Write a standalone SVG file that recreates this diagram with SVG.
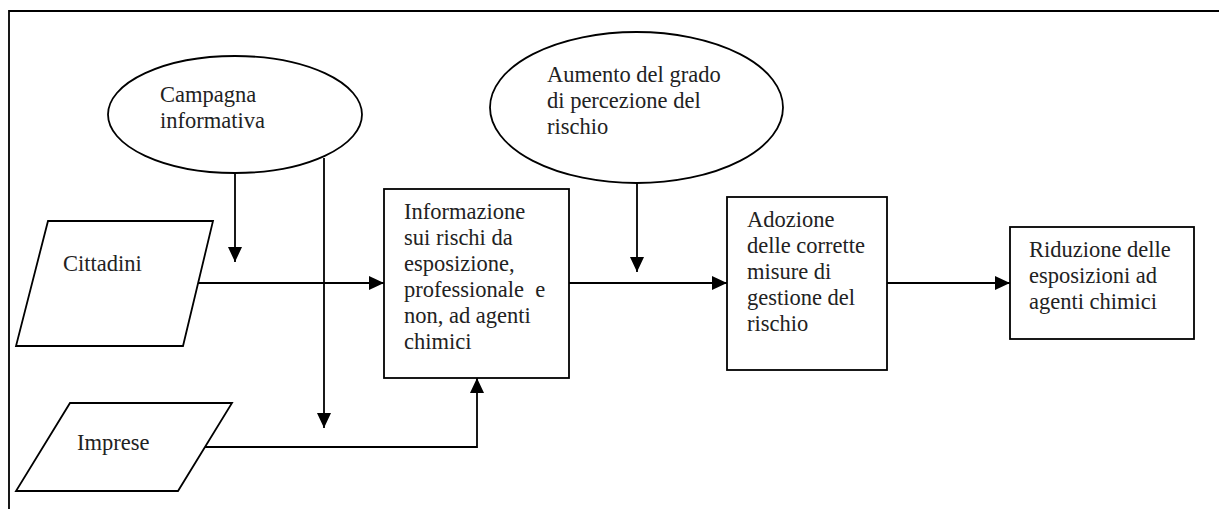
<svg xmlns="http://www.w3.org/2000/svg" width="1219" height="509" viewBox="0 0 1219 509">
<style>
.s{fill:#fff;stroke:#000;stroke-width:1.8}
.c{fill:none;stroke:#000;stroke-width:1.8}
.t{font-family:"Liberation Serif","Times New Roman",Tinos,"DejaVu Serif",serif;font-size:22.5px;fill:#222}
</style>
<defs>
<marker id="ah" viewBox="0 0 15 14" refX="15" refY="7" markerWidth="15" markerHeight="14" markerUnits="userSpaceOnUse" orient="auto">
<path d="M0,0 L15,7 L0,14 Z" fill="#000"/>
</marker>
</defs>
<rect width="1219" height="509" fill="#fff"/>
<g id="frame"><path class="c" d="M9,509 V11 H1219"/></g>
<g id="connectors">
<path class="c" d="M235,173 V262" marker-end="url(#ah)"/>
<path class="c" d="M324,158 V428" marker-end="url(#ah)"/>
<path class="c" d="M198,283 H384" marker-end="url(#ah)"/>
<path class="c" d="M205,447 H477 V378" marker-end="url(#ah)"/>
<path class="c" d="M637,183 V272" marker-end="url(#ah)"/>
<path class="c" d="M569,283 H727" marker-end="url(#ah)"/>
<path class="c" d="M887,283 H1010" marker-end="url(#ah)"/>
</g>
<g id="campagna" class="t">
<ellipse class="s" cx="235" cy="114.5" rx="127" ry="58.5"/>
<text x="160" y="102">Campagna</text>
<text x="160" y="128">informativa</text>
</g>
<g id="aumento" class="t">
<ellipse class="s" cx="636.5" cy="107.5" rx="146.5" ry="75.5"/>
<text x="547" y="82">Aumento del grado</text>
<text x="547" y="108">di percezione del</text>
<text x="547" y="134">rischio</text>
</g>
<g id="cittadini" class="t">
<polygon class="s" points="48,221 213,221 183,346 16,346"/>
<text x="63" y="271">Cittadini</text>
</g>
<g id="imprese" class="t">
<polygon class="s" points="70,403 232,403 178,491 16,491"/>
<text x="77" y="450">Imprese</text>
</g>
<g id="informazione" class="t">
<rect class="s" x="384" y="189" width="185" height="189"/>
<text x="404" y="219">Informazione</text>
<text x="404" y="245">sui rischi da</text>
<text x="404" y="271">esposizione,</text>
<text x="404" y="297" xml:space="preserve">professionale  e</text>
<text x="404" y="323">non, ad agenti</text>
<text x="404" y="349">chimici</text>
</g>
<g id="adozione" class="t">
<rect class="s" x="727" y="197" width="160" height="173"/>
<text x="747" y="227">Adozione</text>
<text x="747" y="253">delle corrette</text>
<text x="747" y="279">misure di</text>
<text x="747" y="305">gestione del</text>
<text x="747" y="331">rischio</text>
</g>
<g id="riduzione" class="t">
<rect class="s" x="1010" y="227" width="184" height="112"/>
<text x="1029" y="257">Riduzione delle</text>
<text x="1029" y="283">esposizioni ad</text>
<text x="1029" y="309">agenti chimici</text>
</g>
</svg>
